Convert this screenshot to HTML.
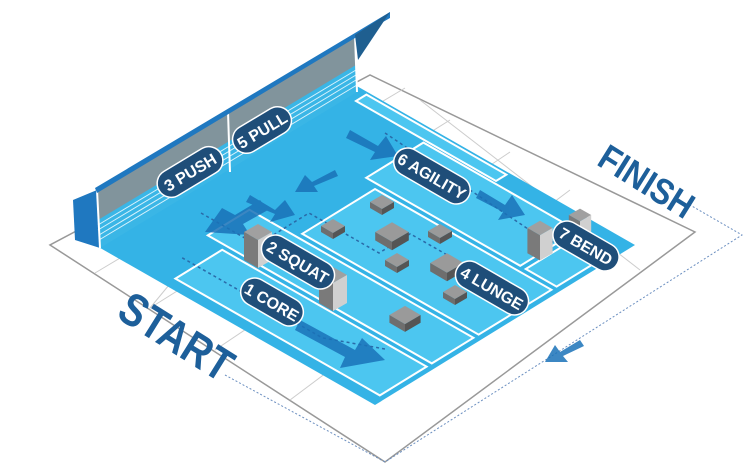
<!DOCTYPE html>
<html><head><meta charset="utf-8"><style>
html,body{margin:0;padding:0;background:#fff;}
svg{display:block}
.lbl{font-family:"Liberation Sans",sans-serif;font-weight:bold;fill:#fff;font-size:16px;}
.big{font-family:"Liberation Sans",sans-serif;font-weight:bold;fill:#1d5f9a;}
</style></head><body>
<svg width="754" height="472" viewBox="0 0 754 472" xmlns="http://www.w3.org/2000/svg">
<defs>
<g id="blk">
<polygon points="-12,0 0,-7 12,0 0,7" fill="#9a9a9a"/>
<polygon points="-12,0 0,7 0,13 -12,6" fill="#6e6e6e"/>
<polygon points="12,0 0,7 0,13 12,6" fill="#555"/>
</g>
<g id="tall">
<polygon points="-14,0 0,-8 14,0 0,8" fill="#a0a0a0"/>
<polygon points="-14,0 0,8 0,36 -14,28" fill="#7a7a7a"/>
<polygon points="14,0 0,8 0,36 14,28" fill="#d0d0d0"/>
</g>
</defs>
<polygon points="50,245 385,462 695,232 370,75" fill="#fff" stroke="#999" stroke-width="1.5"/>
<g stroke="#ccc" stroke-width="1">
<line x1="95" y1="273" x2="405" y2="88"/>
<line x1="150" y1="308" x2="450" y2="120"/>
<line x1="215" y1="350" x2="510" y2="152"/>
<line x1="290" y1="400" x2="570" y2="190"/>
<line x1="330" y1="90" x2="150" y2="308"/>
<line x1="420" y1="100" x2="640" y2="270"/>
</g>
<polyline points="225,375 385,462 742,235 690,205" fill="none" stroke="#6b8fc0" stroke-width="1" stroke-dasharray="2,2"/>
<g transform="matrix(2.8 1.6 2.6 -1.6 95 245)">
<polygon points="0,0 100,0 100,100 0,100" fill="#34b3e6"/>
<g fill="#4cc6f0" stroke="#fff" stroke-width="2">
<rect x="25" y="4" width="73" height="18" vector-effect="non-scaling-stroke"/>
<rect x="18" y="24" width="80" height="16" vector-effect="non-scaling-stroke"/>
<rect x="35" y="42" width="63" height="28" vector-effect="non-scaling-stroke"/>
<rect x="30" y="72" width="55" height="22" vector-effect="non-scaling-stroke"/>
<rect x="87" y="72" width="11" height="22" vector-effect="non-scaling-stroke"/>
<rect x="5" y="95" width="50" height="4" vector-effect="non-scaling-stroke"/>
</g>
<polyline points="10,30 30,30 30,50 55,50 55,62 70,62" fill="none" stroke="#2a6aa8" stroke-width="1.5" stroke-dasharray="3,3" vector-effect="non-scaling-stroke"/>
<polyline points="20,12 70,12 85,20" fill="none" stroke="#2a6aa8" stroke-width="1.5" stroke-dasharray="3,3" vector-effect="non-scaling-stroke"/>
<polyline points="20,90 80,85 95,88" fill="none" stroke="#2a6aa8" stroke-width="1.5" stroke-dasharray="3,3" vector-effect="non-scaling-stroke"/>
</g>
<g fill="#1a72b8" opacity="0.85">
<polygon points="300,320 355,350 362,338 385,360 340,368 345,357 295,330"/>
<polygon points="260,200 235,215 222,208 205,232 250,235 243,224 268,210"/>
<polygon points="250,195 275,210 285,200 295,215 270,222 275,214 246,202"/>
<polygon points="335,170 312,182 305,175 295,192 318,192 314,186 338,176"/>
<polygon points="350,130 378,146 386,136 398,156 370,160 375,152 346,138"/>
<polygon points="480,190 505,205 512,195 525,215 498,220 503,212 476,198"/>
<polygon points="580,340 560,352 555,345 545,362 568,362 563,356 584,346"/>
</g>
<use href="#blk" transform="translate(382,202)"/>
<use href="#blk" transform="translate(333,226)"/>
<use href="#blk" transform="translate(392,232) scale(1.4)"/>
<use href="#blk" transform="translate(440,231)"/>
<use href="#blk" transform="translate(397,260)"/>
<use href="#blk" transform="translate(447,263) scale(1.4)"/>
<use href="#blk" transform="translate(500,286)"/>
<use href="#blk" transform="translate(455,292)"/>
<use href="#blk" transform="translate(405,315) scale(1.3)"/>
<use href="#tall" transform="translate(258,232)"/>
<use href="#tall" transform="translate(333,275)"/>
<use href="#tall" transform="translate(540,228) scale(0.9)"/>
<use href="#tall" transform="translate(580,215) scale(0.8)"/>
<polygon points="73,200 97,190 100,248 75,240" fill="#1f78c0"/>
<polygon points="97,190 355,35 357,92 100,248" fill="#3ab6e6"/>
<polygon points="97,190 355,35 356,65 98,220" fill="#8e8e8e" opacity="0.85"/>
<g stroke="#d8f2fc" stroke-width="1">
<line x1="98" y1="225" x2="356" y2="70"/><line x1="98" y1="230" x2="356" y2="75"/>
<line x1="99" y1="235" x2="356" y2="80"/><line x1="99" y1="240" x2="357" y2="85"/>
</g>
<polyline points="97,190 355,35 357,92" fill="none" stroke="#fff" stroke-width="2"/>
<line x1="97" y1="190" x2="100" y2="248" stroke="#fff" stroke-width="2"/>
<line x1="228" y1="112" x2="230" y2="172" stroke="#fff" stroke-width="2"/>
<polygon points="95,188 355,33 390,12 390,18 355,38 97,193" fill="#1f78c0"/>
<polygon points="355,35 390,12 358,60" fill="#1f5f90"/>
<g transform="translate(190,172) rotate(-31)"><rect x="-36" y="-14" width="72" height="28" rx="14" fill="#1f4e79" stroke="#fff" stroke-width="1.5"/><text class="lbl" text-anchor="middle" y="6">3 PUSH</text></g>
<g transform="translate(262,130) rotate(-31)"><rect x="-32" y="-14" width="64" height="28" rx="14" fill="#1f4e79" stroke="#fff" stroke-width="1.5"/><text class="lbl" text-anchor="middle" y="6">5 PULL</text></g>
<g transform="translate(298,262) rotate(30)"><rect x="-40" y="-14" width="80" height="28" rx="14" fill="#1f4e79" stroke="#fff" stroke-width="1.5"/><text class="lbl" text-anchor="middle" y="6">2 SQUAT</text></g>
<g transform="translate(272,302) rotate(30)"><rect x="-34" y="-14" width="68" height="28" rx="14" fill="#1f4e79" stroke="#fff" stroke-width="1.5"/><text class="lbl" text-anchor="middle" y="6">1 CORE</text></g>
<g transform="translate(492,288) rotate(30)"><rect x="-40" y="-14" width="80" height="28" rx="14" fill="#1f4e79" stroke="#fff" stroke-width="1.5"/><text class="lbl" text-anchor="middle" y="6">4 LUNGE</text></g>
<g transform="translate(432,176) rotate(30)"><rect x="-42" y="-14" width="84" height="28" rx="14" fill="#1f4e79" stroke="#fff" stroke-width="1.5"/><text class="lbl" text-anchor="middle" y="6">6 AGILITY</text></g>
<g transform="translate(586,246) rotate(30)"><rect x="-36" y="-14" width="72" height="28" rx="14" fill="#1f4e79" stroke="#fff" stroke-width="1.5"/><text class="lbl" text-anchor="middle" y="6">7 BEND</text></g>
<text class="big" font-size="46" transform="translate(168,350) rotate(32)" text-anchor="middle" textLength="125" lengthAdjust="spacingAndGlyphs">START</text>
<text class="big" font-size="36" transform="translate(640,192) rotate(32)" text-anchor="middle" textLength="105" lengthAdjust="spacingAndGlyphs">FINISH</text>
</svg>
</body></html>
